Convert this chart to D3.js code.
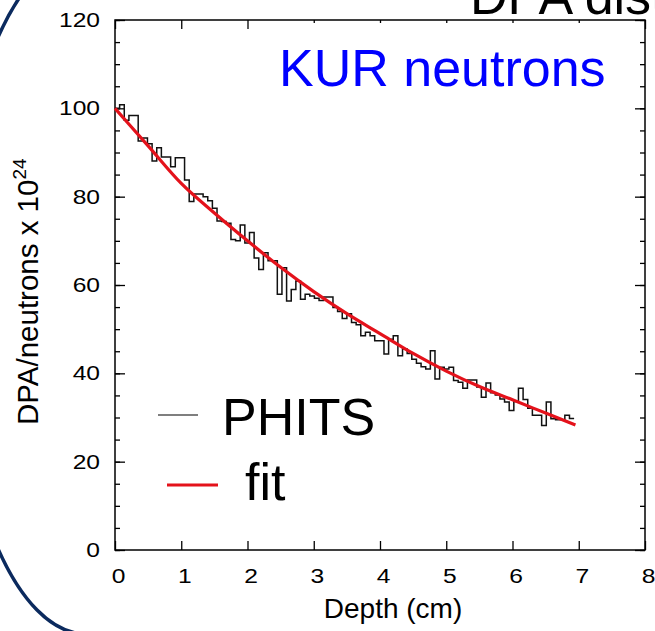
<!DOCTYPE html>
<html>
<head>
<meta charset="utf-8">
<script src="https://cdn.jsdelivr.net/npm/d3@7/dist/d3.min.js"></script>
<style>
  html, body { margin: 0; padding: 0; background: #fff; overflow: hidden; }
  text { font-family: "Liberation Sans", Arial, Helvetica, sans-serif; }
</style>
</head>
<body>
<div id="chart"></div>
<script>
// PHITS histogram, bin width 0.07 cm starting at 0
const binWidth = 0.07
const phitsValues = [
  100, 100.8, 97.3, 98.4, 98.4, 92.6, 93.3, 92, 88.1, 91.1,
  89, 89, 86.8, 88.8, 88.8, 83.8, 78.9, 80.6, 80.6, 80,
  79.1, 77.4, 74.5, 74.4, 74, 70.3, 70, 73.6, 69.5, 71.9,
  66.1, 63.5, 67.3, 65.5, 65.5, 57.9, 63.9, 56.4, 59, 60.9,
  56.8, 57.9, 57.5, 57, 56.5, 57.3, 57.3, 54.9, 54, 52.4,
  53.5, 51.5, 51, 48.5, 49.3, 48.5, 47.4, 47.4, 44.4, 47.7,
  48.5, 44, 45.5, 44.5, 43.2, 42.3, 41.5, 41, 45.1, 38.7,
  41.4, 41, 41.4, 38.4, 38, 36.6, 38.5, 38.5, 36.9, 34.6,
  37.8, 35.6, 35.1, 34.2, 33.5, 31.6, 33.6, 36.6, 34.1, 32.1,
  30.5, 30.5, 28.2, 33.5, 29.7, 29.5, 29.5, 30.5, 29.8
]

// fit curve
const fitDepth = [0, 0.5, 1, 1.5, 2, 2.5, 3, 3.5, 4, 4.5, 5, 5.5, 6, 6.5, 6.95]
const fitValues = [100, 91.5, 83, 76.3, 70, 64, 58.5, 53.5, 49, 44.5, 40.5, 37, 34, 31, 28.3]

const xTicks = [0, 1, 2, 3, 4, 5, 6, 7, 8]
const yTicks = [0, 20, 40, 60, 80, 100, 120]

const W = 655
const H = 631

const svg = d3.select('#chart')
  .append('svg')
  .attr('width', W)
  .attr('height', H)

const x = d3.scaleLinear().domain([0, 8]).range([115, 645])
const y = d3.scaleLinear().domain([0, 120]).range([550, 20])

// navy outline of the slide shape (only left edge visible)
svg.append('clipPath').attr('id', 'leftClip')
  .append('rect').attr('x', -20).attr('y', -20).attr('width', 112).attr('height', H + 40)
svg.append('ellipse')
  .attr('clip-path', 'url(#leftClip)')
  .attr('cx', 86).attr('cy', 293).attr('rx', 133).attr('ry', 341)
  .attr('fill', 'none')
  .attr('stroke', '#0b2a5e')
  .attr('stroke-width', 3.5)

// title cut by the top edge
svg.append('text')
  .attr('x', 470).attr('y', 14)
  .attr('font-size', 52)
  .attr('fill', '#000')
  .text('DPA distribution')

const labelScale = 'scale(1.23,1)'

// minor ticks (every 5)
const minor = d3.range(0, 121, 5)
svg.append('g')
  .attr('transform', `translate(${x(0)},0)`)
  .call(d3.axisLeft(y).tickValues(minor).tickSize(-5).tickFormat(''))
svg.append('g')
  .attr('transform', `translate(${x(8)},0)`)
  .call(d3.axisRight(y).tickValues(minor).tickSize(-5).tickFormat(''))

// major y ticks
const yLeft = svg.append('g')
  .attr('transform', `translate(${x(0)},0)`)
  .call(d3.axisLeft(y).tickValues(yTicks).tickSize(-10).tickPadding(12.2).tickFormat(d3.format('d')))
yLeft.selectAll('text')
  .attr('font-size', 20)
  .attr('fill', '#000')
  .attr('transform', labelScale)
svg.append('g')
  .attr('transform', `translate(${x(8)},0)`)
  .call(d3.axisRight(y).tickValues(yTicks).tickSize(-10).tickFormat(''))

// x ticks
const xBottom = svg.append('g')
  .attr('transform', `translate(0,${y(0)})`)
  .call(d3.axisBottom(x).tickValues(xTicks).tickSize(-9).tickPadding(19).tickFormat(d3.format('d')))
xBottom.selectAll('text')
  .attr('font-size', 20)
  .attr('fill', '#000')
  .attr('transform', 'translate(3,0) ' + labelScale)
svg.append('g')
  .attr('transform', `translate(0,${y(120)})`)
  .call(d3.axisTop(x).tickValues(xTicks).tickSize(-9).tickFormat(''))

svg.selectAll('.domain').remove()
svg.selectAll('.tick line').attr('stroke', '#000').attr('stroke-width', 1.3)

// frame
svg.append('rect')
  .attr('x', x(0)).attr('y', y(120))
  .attr('width', x(8) - x(0)).attr('height', y(0) - y(120))
  .attr('fill', 'none')
  .attr('stroke', '#000')
  .attr('stroke-width', 1.5)

// histogram
const histPts = phitsValues.map((v, i) => [i * binWidth, v])
histPts.push([phitsValues.length * binWidth, phitsValues[phitsValues.length - 1]])
svg.append('path')
  .datum(histPts)
  .attr('fill', 'none')
  .attr('stroke', '#111')
  .attr('stroke-width', 1.5)
  .attr('d', d3.line().x(d => x(d[0])).y(d => y(d[1])).curve(d3.curveStepAfter))

// fit
svg.append('path')
  .datum(fitDepth.map((d, i) => [d, fitValues[i]]))
  .attr('fill', 'none')
  .attr('stroke', '#e4121b')
  .attr('stroke-width', 3.2)
  .attr('d', d3.line().x(d => x(d[0])).y(d => y(d[1])).curve(d3.curveMonotoneX))

// white text box of the overlay label
svg.append('rect')
  .attr('x', 270).attr('y', 23).attr('width', 365).attr('height', 75)
  .attr('fill', '#fff')
svg.append('text')
  .attr('x', 279).attr('y', 86)
  .attr('font-size', 52)
  .attr('fill', '#0000ff')
  .text('KUR neutrons')

// axis titles
svg.append('text')
  .attr('x', 393).attr('y', 618)
  .attr('text-anchor', 'middle')
  .attr('font-size', 28)
  .text('Depth (cm)')

const yTitle = svg.append('text')
  .attr('transform', 'translate(38,425) rotate(-90)')
  .attr('font-size', 29.5)
yTitle.append('tspan').text('DPA/neutrons x 10')
yTitle.append('tspan').attr('dy', -12).attr('font-size', 19).text('24')

// legend
const legend = [
  { name: 'PHITS', color: '#555', width: 1.5, x1: 158, x2: 198, ly: 415, tx: 222, ty: 435 },
  { name: 'fit', color: '#e4121b', width: 3, x1: 167, x2: 218, ly: 485, tx: 245, ty: 500 }
]
legend.forEach(d => {
  svg.append('line')
    .attr('x1', d.x1).attr('x2', d.x2)
    .attr('y1', d.ly).attr('y2', d.ly)
    .attr('stroke', d.color)
    .attr('stroke-width', d.width)
  svg.append('text')
    .attr('x', d.tx).attr('y', d.ty)
    .attr('font-size', 52)
    .attr('fill', '#000')
    .text(d.name)
})
</script>
</body>
</html>
